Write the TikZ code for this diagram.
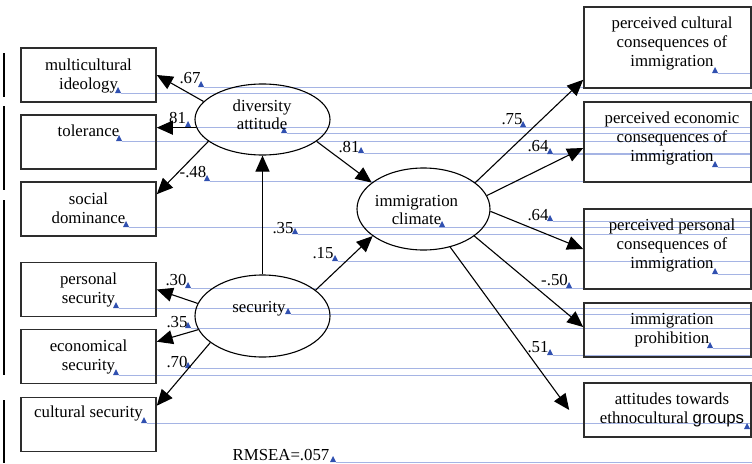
\documentclass[tikz,border=0pt]{standalone}
\usepackage{fontspec}
\setmainfont{Liberation Serif}
\newfontfamily\arialf{Liberation Sans}
\usetikzlibrary{arrows.meta,shapes.geometric}
\definecolor{ancline}{RGB}{165,180,228}
\definecolor{anctri}{RGB}{48,80,176}
\definecolor{boxgray}{RGB}{45,45,45}
\newcommand\cbox[1]{\parbox[t]{200pt}{\centering #1}}
\begin{document}
\begin{tikzpicture}[x=1pt,y=-1pt,
  box/.style={draw=boxgray,line width=1.6pt,minimum width=135pt,minimum height=54pt,inner sep=0pt},
  rbox/.style={box,minimum width=167pt},
  lat/.style={draw,ellipse,line width=1.1pt,inner sep=0pt},
  txt/.style={font=\fontsize{16.8}{19}\selectfont,inner sep=0pt,anchor=base},
  arr/.style={line width=1.1pt,-{Triangle[length=16pt,width=14pt]}},
  aline/.style={draw=ancline,line width=0.9pt},
  bar/.style={line width=2pt}
]
\useasboundingbox (0,0) rectangle (752,463);

% anchor marks and their lines
\foreach \ax/\ay in {201/87,118/93,188/127,284/133,119/141,361/153,207/181,126/227,295/234,
  335/261,188/288,116/308,288/314,188/328,188/368,116/375,144/423,333/462,
  715/73,523/127,550/154,715/167,550/221,442/227,715/274,569/288,710/348,550/355,747/429}{
  \draw[aline] (\ax+3,\ay) -- (752,\ay);
  \fill[anctri] (\ax-3,\ay) -- (\ax+3,\ay) -- (\ax,\ay-6) -- cycle;
}

% left bars
\draw[bar] (4,53) -- (4,97);
\draw[bar] (4,106) -- (4,190);
\draw[bar] (4,200) -- (4,375);
\draw[bar] (4,400) -- (4,463);

% boxes
\node[box] (mi) at (88.5,75) {};
\node[box] (tol) at (88.5,142) {};
\node[box] (sd) at (88.5,209) {};
\node[box] (ps) at (88.5,289.5) {};
\node[box] (es) at (88.5,356.5) {};
\node[box] (cs) at (88.5,424.5) {};
\node[rbox,minimum height=81pt] (pcc) at (667.5,47.5) {};
\node[rbox,minimum height=80pt] (pec) at (667.5,142) {};
\node[rbox,minimum height=80pt] (ppc) at (667.5,249) {};
\node[rbox] (ip) at (667.5,330) {};
\node[rbox] (at) at (667.5,410) {};

% box texts
\node[txt] (mit) at ([yshift=-23pt]mi.north) {\cbox{multicultural\\ideology}};
\node[txt] (tolt) at ([yshift=-22pt]tol.north) {\cbox{tolerance}};
\node[txt] (sdt) at ([yshift=-23pt]sd.north) {\cbox{social\\dominance}};
\node[txt] (pst) at ([yshift=-23pt]ps.north) {\cbox{personal\\security}};
\node[txt] (est) at ([yshift=-23pt]es.north) {\cbox{economical\\security}};
\node[txt] (cst) at ([yshift=-21pt]cs.north) {\cbox{cultural security}};
\node[txt] (pcct) at ([xshift=4.5pt,yshift=-22pt]pcc.north) {\cbox{perceived cultural\\consequences of\\immigration}};
\node[txt] (pect) at ([xshift=4.5pt,yshift=-22pt]pec.north) {\cbox{perceived economic\\consequences of\\immigration}};
\node[txt] (ppct) at ([xshift=4.5pt,yshift=-22pt]ppc.north) {\cbox{perceived personal\\consequences of\\immigration}};
\node[txt] (ipt) at ([xshift=4.5pt,yshift=-22pt]ip.north) {\cbox{immigration\\prohibition}};
\node[txt] (att) at ([xshift=4.5pt,yshift=-22pt]at.north) {\cbox{attitudes towards\\ethnocultural {\arialf groups}}};

% latent ellipses
\node[lat,minimum width=135pt,minimum height=71pt] (da) at (262.5,119.5) {};
\node[lat,minimum width=133pt,minimum height=82pt] (ic) at (423.5,209) {};
\node[lat,minimum width=135pt,minimum height=82pt] (se) at (262.5,316) {};
\node[txt,font=\fontsize{16.8}{18}\selectfont] (dat) at (262,111) {\cbox{diversity\\attitude}};
\node[txt,font=\fontsize{16.8}{18}\selectfont] (ict) at (416.5,206) {\cbox{immigration\\climate}};
\node[txt] (set) at (259,312) {security};

% path coefficients
\node[txt] (l67) at (190,83) {.67};
\node[txt] (l81) at (177.5,123) {81};
\node[txt] (l48) at (193,177) {-.48};
\node[txt] (l81b) at (349,152) {.81};
\node[txt] (l35a) at (283,233) {.35};
\node[txt] (l15) at (323,258) {.15};
\node[txt] (l30) at (176,285) {.30};
\node[txt] (l35b) at (177,327) {.35};
\node[txt] (l70) at (177,367) {.70};
\node[txt] (l75) at (512,124) {.75};
\node[txt] (l64a) at (538,151) {.64};
\node[txt] (l64b) at (538,220) {.64};
\node[txt] (l50) at (554.5,285) {-.50};
\node[txt] (l51) at (538,352) {.51};
\node[txt] (rm) at (281,460) {RMSEA=.057};

% connectors
\draw[arr] (da.163) -- (mi.east);
\draw[arr] (da.187) -- (da.187 -| tol.east);
\draw[arr] (da.202) -- ([yshift=-13pt]sd.north east);
\draw[arr] (da.338) -- (ic.153);
\draw[arr] (se.north) -- (da.south);
\draw[arr] (se.26) -- (ic.208);
\draw[arr] (se.169) -- (ps.east);
\draw[arr] (se.192) -- ([yshift=-13pt]es.north east);
\draw[arr] (se.207) -- ([yshift=-9pt]cs.north east);
\draw[arr] (ic.27) -- ([yshift=9pt]pcc.south west);
\draw[arr] (ic.12) -- ([yshift=-6pt]pec.west);
\draw[arr] (ic.358) -- (ppc.west);
\draw[arr] (ic.332) -- ([yshift=3pt]ip.west);
\coordinate (atend) at ([xshift=-14pt]at.west);
\draw[arr] (ic.305) -- (atend);
\end{tikzpicture}
\end{document}
